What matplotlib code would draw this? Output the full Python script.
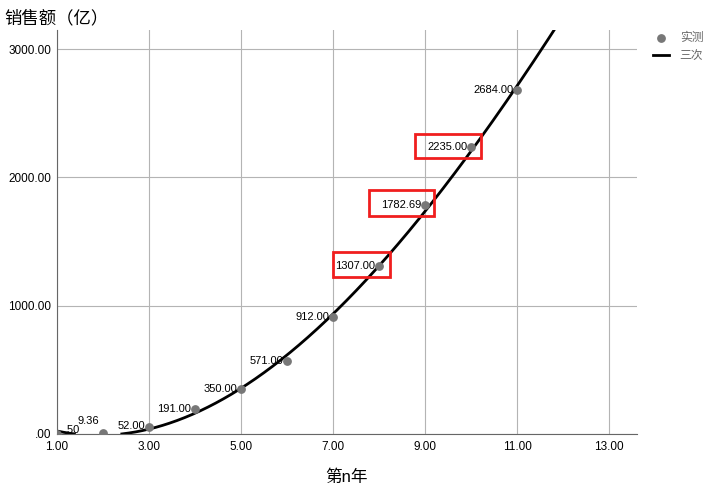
import numpy as np
import matplotlib.pyplot as plt
from matplotlib.patches import Rectangle
from matplotlib.transforms import IdentityTransform

plt.rcParams['font.family'] = ['Liberation Sans', 'Noto Sans CJK SC', 'DejaVu Sans']

years = np.arange(1, 12)
sales = [0.50, 9.36, 52.00, 191.00, 350.00, 571.00, 912.00, 1307.00, 1782.69, 2235.00, 2684.00]
labels = ['.50', '9.36', '52.00', '191.00', '350.00', '571.00', '912.00',
          '1307.00', '1782.69', '2235.00', '2684.00']
boxed = [7, 8, 9]

xticks = [1, 3, 5, 7, 9, 11, 13]
xticklabels = ['1.00', '3.00', '5.00', '7.00', '9.00', '11.00', '13.00']
yticks = [0, 1000, 2000, 3000]
yticklabels = ['.00', '1000.00', '2000.00', '3000.00']

# cubic fit, hide the part that goes under the x axis
coef = np.polyfit(years, sales, 3)
xs = np.linspace(1, 13.6, 600)
ys = np.polyval(coef, xs)
ys[ys < 0] = np.nan

fig = plt.figure(figsize=(7.12, 4.94), dpi=100)
ax = fig.add_axes([0.080, 0.1215, 0.8146, 0.8178])

ax.grid(True, color='#b4b4b4', linewidth=0.8)
ax.set_axisbelow(True)

line, = ax.plot(xs, ys, color='black', linewidth=2, label='三次')
pts = ax.scatter(years, sales, s=28, color='#777777', zorder=3, label='实测')

for i, (x, y, t) in enumerate(zip(years, sales, labels)):
    dx, dy, ha = -4, 0, 'right'
    if i == 0:
        dx, dy, ha = 7, 4, 'left'
    elif i == 1:
        dy = 12
    elif i == 2:
        dy = 1
    ax.annotate(t, (x, y), xytext=(dx, dy), textcoords='offset pixels',
                ha=ha, va='center', fontsize=8, zorder=4)

ax.set_xlim(1, 13.6)
ax.set_ylim(0, 3149)
ax.set_xticks(xticks)
ax.set_xticklabels(xticklabels, fontsize=8.5)
ax.set_yticks(yticks)
ax.set_yticklabels(yticklabels, fontsize=8.5)
ax.tick_params(axis='x', length=0, pad=5)
ax.tick_params(axis='y', length=0, pad=4)

for s in ['top', 'right']:
    ax.spines[s].set_visible(False)
for s in ['left', 'bottom']:
    ax.spines[s].set_color('#666666')

# red highlight boxes (pixel offsets from the point: left, right, up, down)
box_pad = [(-46, 11, 14, 11), (-56, 9, 15, 11), (-56, 10, 13, 11)]
for i, (l, r, u, d) in zip(boxed, box_pad):
    px, py = ax.transData.transform((years[i], sales[i]))
    fig.add_artist(Rectangle((px + l, py - d), r - l, u + d, fill=False,
                             ec='#f01e1e', lw=2, transform=IdentityTransform(),
                             zorder=5))

ax.set_xlabel('第n年', fontsize=12, labelpad=12)
fig.text(0.006, 0.963, '销售额（亿）', fontsize=12.5, va='center', ha='left')

fig.legend(handles=[pts, line], loc='upper left', bbox_to_anchor=(653 / 712, 1 - 32 / 494),
           frameon=False, fontsize=8.5, labelcolor='#666666', handlelength=1.36,
           handletextpad=0.9, borderpad=0, borderaxespad=0, labelspacing=0.5)

fig.savefig('out.png', dpi=100)
